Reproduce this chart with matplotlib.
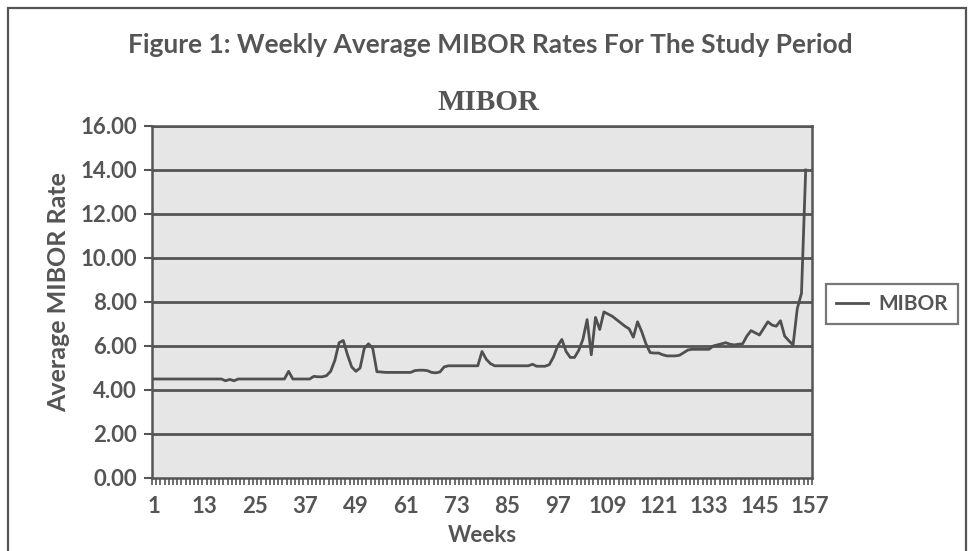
import matplotlib
matplotlib.use("Agg")
import matplotlib.pyplot as plt
from matplotlib.patches import Rectangle
from matplotlib.lines import Line2D

title = "Figure 1: Weekly Average MIBOR Rates For The Study Period"
chart_title = "MIBOR"
series_name = "MIBOR"
x_label = "Weeks"
y_label = "Average MIBOR Rate"
x_tick_labels = [1, 13, 25, 37, 49, 61, 73, 85, 97, 109, 121, 133, 145, 157]
y_ticks = [0, 2, 4, 6, 8, 10, 12, 14, 16]

mibor = [
    4.50, 4.50, 4.50, 4.50, 4.50, 4.50, 4.50, 4.50, 4.50, 4.50,   # 1-10
    4.50, 4.50, 4.50, 4.50, 4.50, 4.50, 4.50, 4.42, 4.48, 4.42,   # 11-20
    4.50, 4.50, 4.50, 4.50, 4.50, 4.50, 4.50, 4.50, 4.50, 4.50,   # 21-30
    4.50, 4.50, 4.85, 4.50, 4.50, 4.50, 4.50, 4.50, 4.62, 4.60,   # 31-40
    4.60, 4.65, 4.85, 5.35, 6.15, 6.25, 5.60, 5.05, 4.85, 5.00,   # 41-50
    5.90, 6.10, 5.90, 4.83, 4.82, 4.80, 4.80, 4.80, 4.80, 4.80,   # 51-60
    4.80, 4.80, 4.88, 4.90, 4.90, 4.88, 4.80, 4.78, 4.82, 5.05,   # 61-70
    5.10, 5.10, 5.10, 5.10, 5.10, 5.10, 5.10, 5.10, 5.75, 5.40,   # 71-80
    5.20, 5.10, 5.10, 5.10, 5.10, 5.10, 5.10, 5.10, 5.10, 5.10,   # 81-90
    5.17, 5.08, 5.08, 5.08, 5.15, 5.50, 6.00, 6.30, 5.75, 5.48,   # 91-100
    5.48, 5.80, 6.30, 7.20, 5.60, 7.30, 6.75, 7.55, 7.45, 7.35,   # 101-110
    7.20, 7.05, 6.90, 6.78, 6.40, 7.10, 6.65, 6.10, 5.70, 5.68,   # 111-120
    5.68, 5.60, 5.55, 5.55, 5.55, 5.58, 5.70, 5.82, 5.85, 5.85,   # 121-130
    5.85, 5.85, 5.85, 6.00, 6.05, 6.10, 6.15, 6.08, 6.05, 6.08,   # 131-140
    6.10, 6.45, 6.70, 6.60, 6.50, 6.80, 7.10, 6.95, 6.90, 7.15,   # 141-150
    6.45, 6.24, 6.05, 7.70, 8.40, 14.00,                          # 151-156
]
weeks = list(range(1, len(mibor) + 1))

W, H = 969, 551
fig = plt.figure(figsize=(W / 100, H / 100), dpi=100)
fig.patch.set_facecolor("white")

# outer chart frame
fig.patches.append(Rectangle((8 / W, -0.05), (966 - 8) / W, 1.05 - 8 / H,
                             transform=fig.transFigure, fill=False,
                             edgecolor="#555555", linewidth=1.6))

left, right, top, bottom = 152 / W, 812 / W, 1 - 126 / H, 1 - 478 / H
ax = fig.add_axes([left, bottom, right - left, top - bottom])
ax.set_facecolor("#e6e6e6")

grid_color = "#555555"
for y in y_ticks[1:]:
    ax.axhline(y, color=grid_color, linewidth=2.0, zorder=1)

ax.plot(weeks, mibor, color="#505050", linewidth=2.0, zorder=3,
        solid_joinstyle="round")

ax.set_xlim(0.5, 157.5)
ax.set_ylim(0, 16)

ax.set_yticks(y_ticks)
ax.set_yticklabels([f"{v:.2f}" for v in y_ticks])
ax.set_xticks(x_tick_labels)
ax.set_xticklabels([str(v) for v in x_tick_labels])
ax.set_xticks([i + 0.5 for i in range(0, 158)], minor=True)
ax.tick_params(axis="x", which="major", length=0, pad=13)
ax.tick_params(axis="x", which="minor", length=5, width=1.2, color="#555555",
               direction="out")
ax.tick_params(axis="y", which="major", length=6, width=1.5, color="#555555",
               direction="out", pad=5)

for lab in ax.get_xticklabels() + ax.get_yticklabels():
    lab.set_fontfamily("Lato")
    lab.set_fontsize(16)
    lab.set_color("#555555")
    lab.set_fontweight("bold")

for side in ["top", "right", "left", "bottom"]:
    ax.spines[side].set_color("#555555")
    ax.spines[side].set_linewidth(1.8)

ax.set_xlabel(x_label, fontfamily="Lato", fontsize=16, fontweight="bold",
              color="#555555", labelpad=6)
ax.set_ylabel(y_label, fontfamily="Lato", fontsize=18, fontweight="bold",
              color="#555555", labelpad=6)
ax.yaxis.set_label_coords(-0.124, 0.528)

fig.text(490 / W, 1 - 45 / H, title, ha="center", va="center",
         fontfamily="Lato", fontsize=19, fontweight="bold", color="#555555")
fig.text(488 / W, 1 - 103 / H, chart_title, ha="center", va="center",
         fontfamily="Liberation Serif", fontsize=21, fontweight="bold",
         color="#555555")

# legend
handle = Line2D([], [], color="#505050", linewidth=2.0)
leg = fig.legend([handle], [series_name], loc="center left",
                 bbox_to_anchor=(826 / W, 1 - 304 / H), frameon=True,
                 fancybox=False, handlelength=1.5, handletextpad=0.5,
                 borderpad=0.5, borderaxespad=0.0,
                 prop=dict(family="Lato", size=15, weight="bold"))
leg.get_frame().set_edgecolor("#555555")
leg.get_frame().set_linewidth(1.6)
for t in leg.get_texts():
    t.set_color("#555555")

fig.savefig("out.png", dpi=100)
